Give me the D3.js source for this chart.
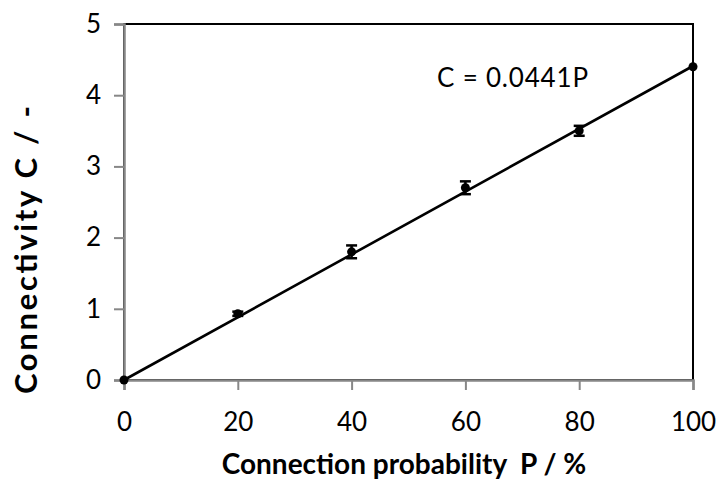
<!DOCTYPE html>
<html><head><meta charset="utf-8">
<script src="https://cdn.jsdelivr.net/npm/d3@7"></script>
<style>body{margin:0;background:#fff}svg{display:block}text{font-family:Lato,"Open Sans",sans-serif}</style>
</head><body><svg id="c" width="720" height="485"></svg>
<script>
const P = [0, 20, 40, 60, 80, 100];
const C = [0, 0.93, 1.80, 2.70, 3.50, 4.40];
const err = [0, 0.03, 0.09, 0.09, 0.07, 0];
const slope = 0.0441;
const xTicks = [0, 20, 40, 60, 80, 100];
const yTicks = [0, 1, 2, 3, 4, 5];

const svg = d3.select("#c");
const L = 124, R = 693, T = 24, B = 380;
const x = d3.scaleLinear().domain([0, 100]).range([L, R]);
const y = d3.scaleLinear().domain([0, 5]).range([B, T]);

svg.append("rect").attr("x", L).attr("y", T).attr("width", R - L).attr("height", B - T)
  .attr("fill", "none").attr("stroke", "#000").attr("stroke-width", 2);

const gx = svg.append("g").attr("transform", `translate(0,${B})`)
  .call(d3.axisBottom(x).tickValues(xTicks).tickSize(10).tickPadding(23).tickFormat(d3.format("d")));
const gy = svg.append("g").attr("transform", `translate(${L},0)`)
  .call(d3.axisLeft(y).tickValues(yTicks).tickSize(10).tickPadding(13).tickFormat(d3.format("d")));
[gx, gy].forEach(g => {
  g.select(".domain").attr("stroke", "#878787").attr("stroke-width", 2.5);
  g.selectAll(".tick line").attr("stroke", "#878787").attr("stroke-width", 2);
  g.selectAll(".tick text").attr("font-size", 26).attr("fill", "#000");
});

// fit line
svg.append("line").attr("x1", x(0)).attr("y1", y(0)).attr("x2", x(100)).attr("y2", y(slope * 100))
  .attr("stroke", "#000").attr("stroke-width", 2.6);

const data = P.map((p, i) => ({p, c: C[i], e: err[i]}));
const eb = svg.append("g").attr("stroke", "#000").attr("stroke-width", 2.5);
data.filter(d => d.e > 0).forEach(d => {
  eb.append("line").attr("x1", x(d.p)).attr("x2", x(d.p)).attr("y1", y(d.c - d.e)).attr("y2", y(d.c + d.e));
  [d.c - d.e, d.c + d.e].forEach(v => eb.append("line").attr("x1", x(d.p) - 5.5).attr("x2", x(d.p) + 5.5).attr("y1", y(v)).attr("y2", y(v)));
});
svg.append("g").selectAll("circle").data(data).join("circle")
  .attr("cx", d => x(d.p)).attr("cy", d => y(d.c)).attr("r", 4.5).attr("fill", "#000");

svg.append("text").attr("x", 437).attr("y", 87).attr("font-size", 26)
  .attr("textLength", 151).attr("lengthAdjust", "spacing").text("C = 0.0441P");

svg.append("text").attr("x", 404).attr("y", 474).attr("text-anchor", "middle").attr("font-size", 28).attr("font-weight", "bold")
  .attr("xml:space", "preserve").text("Connection probability  P / %");
svg.append("text").attr("transform", `translate(37,394) rotate(-90)`)
  .attr("font-size", 31).attr("font-weight", "bold")
  .attr("textLength", 288).attr("lengthAdjust", "spacing").text("Connectivity C / -");
</script></body></html>
